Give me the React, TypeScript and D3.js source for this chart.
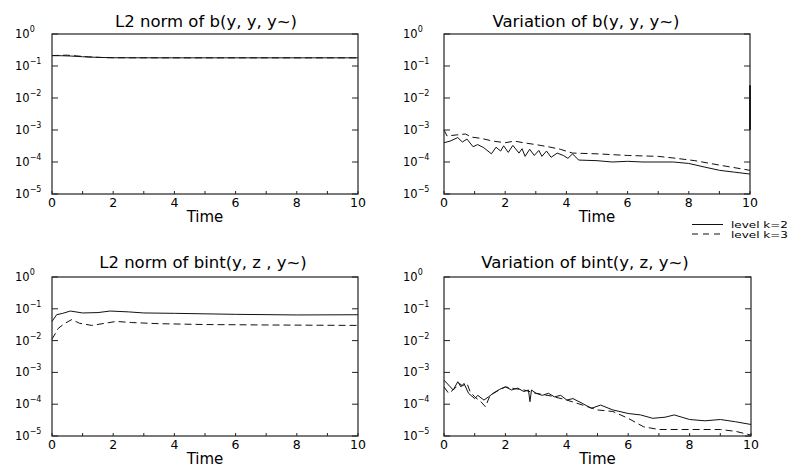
import React from "react";
import * as d3 from "d3";

// ---------- data ----------
const xTicks = [0, 2, 4, 6, 8, 10];
const xMinor = [1, 3, 5, 7, 9];
const yExponents = [0, -1, -2, -3, -4, -5];
const legendLabels = ["level k=2", "level k=3"];

// L2 norm of b(y, y, y~)
const normB_k2: [number, number][] = [
  [0, 0.21], [0.3, 0.21], [0.6, 0.205], [1, 0.195], [1.5, 0.186], [2, 0.181], [4, 0.18], [7, 0.18], [10, 0.18],
];
const normB_k3: [number, number][] = [
  [0, 0.212], [0.5, 0.218], [0.8, 0.207], [1.2, 0.192], [1.8, 0.182], [3, 0.18], [6, 0.18], [10, 0.18],
];

// Variation of b(y, y, y~)
const varB_k2: [number, number][] = [
  [0, 4e-4], [0.2, 4.5e-4], [0.45, 5.8e-4], [0.6, 4.2e-4], [0.75, 5.2e-4], [0.95, 3e-4], [1.1, 3.5e-4],
  [1.3, 2.8e-4], [1.55, 1.8e-4], [1.7, 2.9e-4], [1.85, 2.2e-4], [1.95, 3.2e-4], [2.1, 2e-4], [2.25, 3.3e-4],
  [2.45, 1.9e-4], [2.55, 2.6e-4], [2.65, 1.5e-4], [2.8, 2.5e-4], [2.95, 1.6e-4], [3.1, 2.3e-4], [3.2, 1.5e-4],
  [3.35, 2.2e-4], [3.5, 1.4e-4], [3.7, 1.9e-4], [3.9, 1.6e-4], [4.05, 1.3e-4], [4.2, 1.8e-4], [4.4, 1.15e-4],
  [5, 1.1e-4], [5.5, 1e-4], [6, 1.05e-4], [6.5, 1e-4], [7.5, 1e-4], [8, 9e-5], [8.5, 7e-5], [9, 5.5e-5],
  [9.5, 4.8e-5], [10, 4.2e-5],
];
const varB_k3: [number, number][] = [
  [0, 1e-3], [0.1, 6.5e-4], [0.4, 7e-4], [0.7, 7.5e-4], [0.9, 6e-4], [1.2, 5.5e-4], [1.6, 4.5e-4], [2, 4e-4],
  [2.3, 4.5e-4], [2.6, 4e-4], [3, 3.5e-4], [3.4, 3e-4], [3.8, 2.5e-4], [4.2, 1.9e-4], [5, 1.8e-4], [6, 1.6e-4],
  [7, 1.5e-4], [7.6, 1.3e-4], [8.2, 1.1e-4], [9, 8e-5], [10, 5.5e-5],
];
const varB_spike: [number, number][] = [[10, 1e-3], [10, 0.025]];

// L2 norm of bint(y, z, y~)
const normBint_k2: [number, number][] = [
  [0, 0.04], [0.15, 0.065], [0.35, 0.072], [0.6, 0.085], [1, 0.074], [1.5, 0.076], [1.9, 0.085], [2.5, 0.08],
  [3, 0.074], [4, 0.072], [6, 0.067], [8, 0.064], [10, 0.065],
];
const normBint_k3: [number, number][] = [
  [0, 0.011], [0.2, 0.024], [0.4, 0.034], [0.65, 0.046], [0.9, 0.035], [1.3, 0.03], [1.8, 0.036], [2.1, 0.04],
  [2.6, 0.037], [3.5, 0.034], [5, 0.032], [7, 0.031], [10, 0.03],
];

// Variation of bint(y, z, y~)
const varBint_k2: [number, number][] = [
  [0, 5.7e-4], [0.15, 4e-4], [0.3, 2.8e-4], [0.45, 5.1e-4], [0.55, 3.5e-4], [0.65, 4.5e-4], [0.8, 2.2e-4],
  [1, 1.5e-4], [1.1, 1.9e-4], [1.3, 1.35e-4], [1.45, 1.7e-4], [1.6, 2.2e-4], [1.8, 2.9e-4], [2, 3.5e-4],
  [2.2, 2.8e-4], [2.4, 3.2e-4], [2.6, 2.5e-4], [2.75, 2.8e-4], [2.8, 1.2e-4], [2.85, 2.8e-4], [3, 2.2e-4],
  [3.2, 1.9e-4], [3.4, 2.2e-4], [3.6, 1.7e-4], [3.8, 1.9e-4], [4, 1.35e-4], [4.2, 1.5e-4], [4.5, 1.07e-4],
  [4.8, 7.4e-5], [5.1, 9.4e-5], [5.5, 6.6e-5], [6, 5.1e-5], [6.4, 4.6e-5], [6.8, 3.6e-5], [7.2, 3.9e-5],
  [7.5, 4.6e-5], [8, 3.3e-5], [8.5, 3e-5], [9, 3.3e-5], [9.5, 2.8e-5], [10, 2.3e-5],
];
const varBint_k3: [number, number][] = [
  [0, 3.5e-4], [0.15, 2.2e-4], [0.35, 3.1e-4], [0.5, 4.5e-4], [0.6, 3.8e-4], [0.75, 4.5e-4], [0.85, 2.5e-4],
  [1, 1.7e-4], [1.2, 1.2e-4], [1.35, 8.3e-5], [1.5, 1.9e-4], [1.8, 2.8e-4], [2, 3.5e-4], [2.3, 3.1e-4],
  [2.6, 2.8e-4], [3, 2.2e-4], [3.5, 1.8e-4], [4, 1.35e-4], [4.5, 9.5e-5], [5, 6.6e-5], [5.5, 5.9e-5],
  [6, 3.6e-5], [6.5, 1.95e-5], [7, 1.6e-5], [8, 1.6e-5], [9, 1.6e-5], [9.5, 1.4e-5], [10, 1.07e-5],
];

const titles = [
  "L2 norm of b(y, y, y~)",
  "Variation of b(y, y, y~)",
  "L2 norm of bint(y, z , y~)",
  "Variation of bint(y, z, y~)",
];

// ---------- layout ----------
const W = 793;
const H = 466;
const FONT = "'DejaVu Sans', Arial, sans-serif";
const DASH = "7,4";

type PanelSpec = {
  title: string;
  x0: number; x1: number; y0: number; y1: number;
  titleX: number; titleY: number; labelOffset: number;
  solid: [number, number][];
  dashed: [number, number][];
  extra?: [number, number][];
};

const panels: PanelSpec[] = [
  { title: titles[0], x0: 52, x1: 358, y0: 34, y1: 194, titleX: 206, titleY: 27, labelOffset: 37, solid: normB_k2, dashed: normB_k3 },
  { title: titles[1], x0: 444, x1: 750, y0: 34, y1: 194, titleX: 586, titleY: 27, labelOffset: 41, solid: varB_k2, dashed: varB_k3, extra: varB_spike },
  { title: titles[2], x0: 52, x1: 358, y0: 277, y1: 436, titleX: 203, titleY: 268, labelOffset: 37, solid: normBint_k2, dashed: normBint_k3 },
  { title: titles[3], x0: 444, x1: 751, y0: 277, y1: 436, titleX: 585, titleY: 268, labelOffset: 41, solid: varBint_k2, dashed: varBint_k3 },
];

function Panel({ p }: { p: PanelSpec }) {
  const x = d3.scaleLinear().domain([0, 10]).range([p.x0, p.x1]);
  const y = d3.scaleLog().domain([1e-5, 1]).range([p.y1, p.y0]);
  const line = d3
    .line<[number, number]>()
    .x((d) => x(d[0]))
    .y((d) => y(d[1]));
  return (
    <g>
      <text x={p.titleX} y={p.titleY} textAnchor="middle" fontFamily={FONT} fontSize={16.5} fill="#000">
        {p.title}
      </text>
      <path d={line(p.dashed) || ""} fill="none" stroke="#111" strokeWidth={1} strokeDasharray={DASH} />
      <path d={line(p.solid) || ""} fill="none" stroke="#111" strokeWidth={1} />
      {p.extra && <path d={line(p.extra) || ""} fill="none" stroke="#111" strokeWidth={2} />}
      <rect x={p.x0} y={p.y0} width={p.x1 - p.x0} height={p.y1 - p.y0} fill="none" stroke="#222" strokeWidth={1.2} />
      {yExponents.map((e) => {
        const yy = y(Math.pow(10, e));
        return (
          <g key={e}>
            <line x1={p.x0} x2={p.x0 + 6} y1={yy} y2={yy} stroke="#222" />
            <line x1={p.x1 - 6} x2={p.x1} y1={yy} y2={yy} stroke="#222" />
            <text x={p.x0 - p.labelOffset} y={yy + 4} fontFamily={FONT} fontSize={11.5} fill="#000">
              10
              <tspan fontSize={8} dy={-6}>{e === 0 ? "0" : "\u2212" + Math.abs(e)}</tspan>
            </text>
          </g>
        );
      })}
      {[...xTicks, ...xMinor].map((t) => (
        <line key={"t" + t} x1={x(t)} x2={x(t)} y1={p.y1} y2={p.y1 - 3} stroke="#222" />
      ))}
      {xTicks.map((t) => (
        <text key={"l" + t} x={x(t)} y={p.y1 + 13} textAnchor="middle" fontFamily={FONT} fontSize={12.5} fill="#000">
          {t}
        </text>
      ))}
      <text x={(p.x0 + p.x1) / 2} y={p.y1 + 27.5} textAnchor="middle" fontFamily={FONT} fontSize={15} fill="#000">
        Time
      </text>
    </g>
  );
}

export default function App() {
  return (
    <svg
      width={W}
      height={H}
      viewBox={`0 0 ${W} ${H}`}
      style={{ position: "absolute", left: 0, top: 0, background: "#fff" }}
    >
      <rect x={0} y={0} width={W} height={H} fill="#fff" />
      {panels.map((p, i) => (
        <Panel key={i} p={p} />
      ))}
      <g>
        <line x1={692} x2={723} y1={224.5} y2={224.5} stroke="#111" />
        <text x={731} y={228} fontFamily={FONT} fontSize={9.5} textLength={57} lengthAdjust="spacingAndGlyphs" fill="#000">{legendLabels[0]}</text>
        <line x1={692} x2={723} y1={234} y2={234} stroke="#111" strokeDasharray="6,5" />
        <text x={731} y={238} fontFamily={FONT} fontSize={9.5} textLength={57} lengthAdjust="spacingAndGlyphs" fill="#000">{legendLabels[1]}</text>
      </g>
    </svg>
  );
}
